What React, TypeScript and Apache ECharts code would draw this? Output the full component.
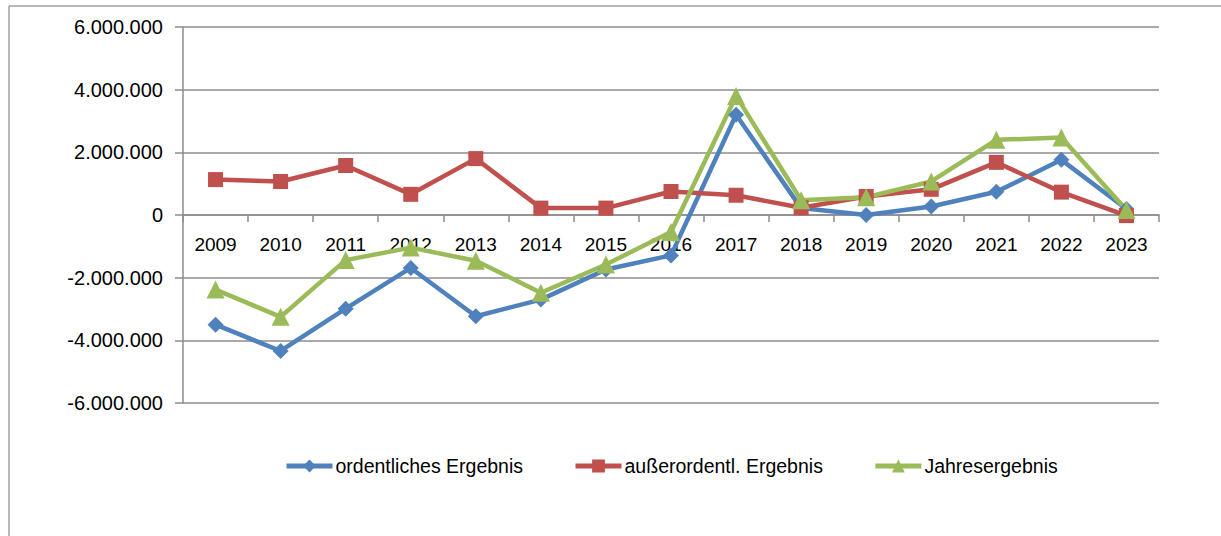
import React, { useEffect, useRef } from "react";
import * as echarts from "echarts";

const years = ["2009","2010","2011","2012","2013","2014","2015","2016","2017","2018","2019","2020","2021","2022","2023"];
const ordentlich = [-3500000,-4340000,-2990000,-1690000,-3230000,-2700000,-1740000,-1290000,3200000,220000,0,270000,740000,1760000,190000];
const ausserordentlich = [1130000,1070000,1580000,660000,1800000,220000,220000,750000,630000,230000,590000,820000,1680000,730000,-20000];
const jahresergebnis = [-2380000,-3250000,-1440000,-1040000,-1460000,-2480000,-1580000,-540000,3800000,470000,570000,1070000,2400000,2470000,160000];
const seriesNames = ["ordentliches Ergebnis", "außerordentl. Ergebnis", "Jahresergebnis"];
const colors = ["#4F81BD", "#C0504D", "#9BBB59"];

const fmt = (v: number) => {
  const s = Math.abs(v).toString().replace(/\B(?=(\d{3})+(?!\d))/g, ".");
  return (v < 0 ? "-" : "") + s;
};

export default function App() {
  const ref = useRef<HTMLDivElement>(null);
  useEffect(() => {
    if (!ref.current) return;
    const chart = echarts.init(ref.current, null, { renderer: "svg" });
    const font = "'Liberation Sans', Arial, sans-serif";
    const mk = (i: number, data: number[], symbol: string, size: number) => ({
      name: seriesNames[i],
      type: "line",
      data,
      symbol,
      symbolSize: size,
      color: colors[i],
      lineStyle: { width: 4.5, color: colors[i] },
      itemStyle: { color: colors[i] },
    });
    chart.setOption({
      animation: false,
      backgroundColor: "#ffffff",
      textStyle: { fontFamily: font },
      grid: { left: 183, right: 62, top: 27, bottom: 133 },
      legend: {
        left: 279,
        top: 451,
        itemWidth: 46,
        itemHeight: 16,
        itemGap: 50,
        lineStyle: { width: 5 },
        textStyle: { fontSize: 19.5, color: "#000", fontFamily: font, padding: [0, 0, 0, -2] },
        data: seriesNames,
      },
      xAxis: {
        type: "category",
        data: years,
        boundaryGap: true,
        offset: -188,
        axisLine: { onZero: false, lineStyle: { color: "#8c8c8c", width: 1.5 } },
        axisTick: { show: true, length: 7, lineStyle: { color: "#8c8c8c", width: 1.5 } },
        axisLabel: { fontSize: 19, color: "#000", margin: 20, fontFamily: font, interval: 0 },
        splitLine: { show: false },
      },
      yAxis: {
        type: "value",
        min: -6000000,
        max: 6000000,
        interval: 2000000,
        axisLine: { show: true, lineStyle: { color: "#8c8c8c", width: 1.5 } },
        axisTick: { show: true, length: 8, lineStyle: { color: "#8c8c8c", width: 1.5 } },
        axisLabel: { fontSize: 20, color: "#000", margin: 20, fontFamily: font, formatter: (v: number) => fmt(v) },
        splitLine: { show: true, lineStyle: { color: "#8c8c8c", width: 1.5 } },
      },
      graphic: [
        { type: "line", shape: { x1: 9, y1: 6, x2: 1221, y2: 6 }, style: { stroke: "#a0a0a0", lineWidth: 1.5 } },
        { type: "line", shape: { x1: 9, y1: 6, x2: 9, y2: 536 }, style: { stroke: "#a0a0a0", lineWidth: 1.5 } },
      ],
      series: [
        mk(0, ordentlich, "diamond", 16),
        mk(1, ausserordentlich, "rect", 15),
        mk(2, jahresergebnis, "triangle", 18),
      ],
    });
    return () => chart.dispose();
  }, []);
  return <div ref={ref} style={{ position: "fixed", left: 0, top: 0, width: 1221, height: 536 }} />;
}
